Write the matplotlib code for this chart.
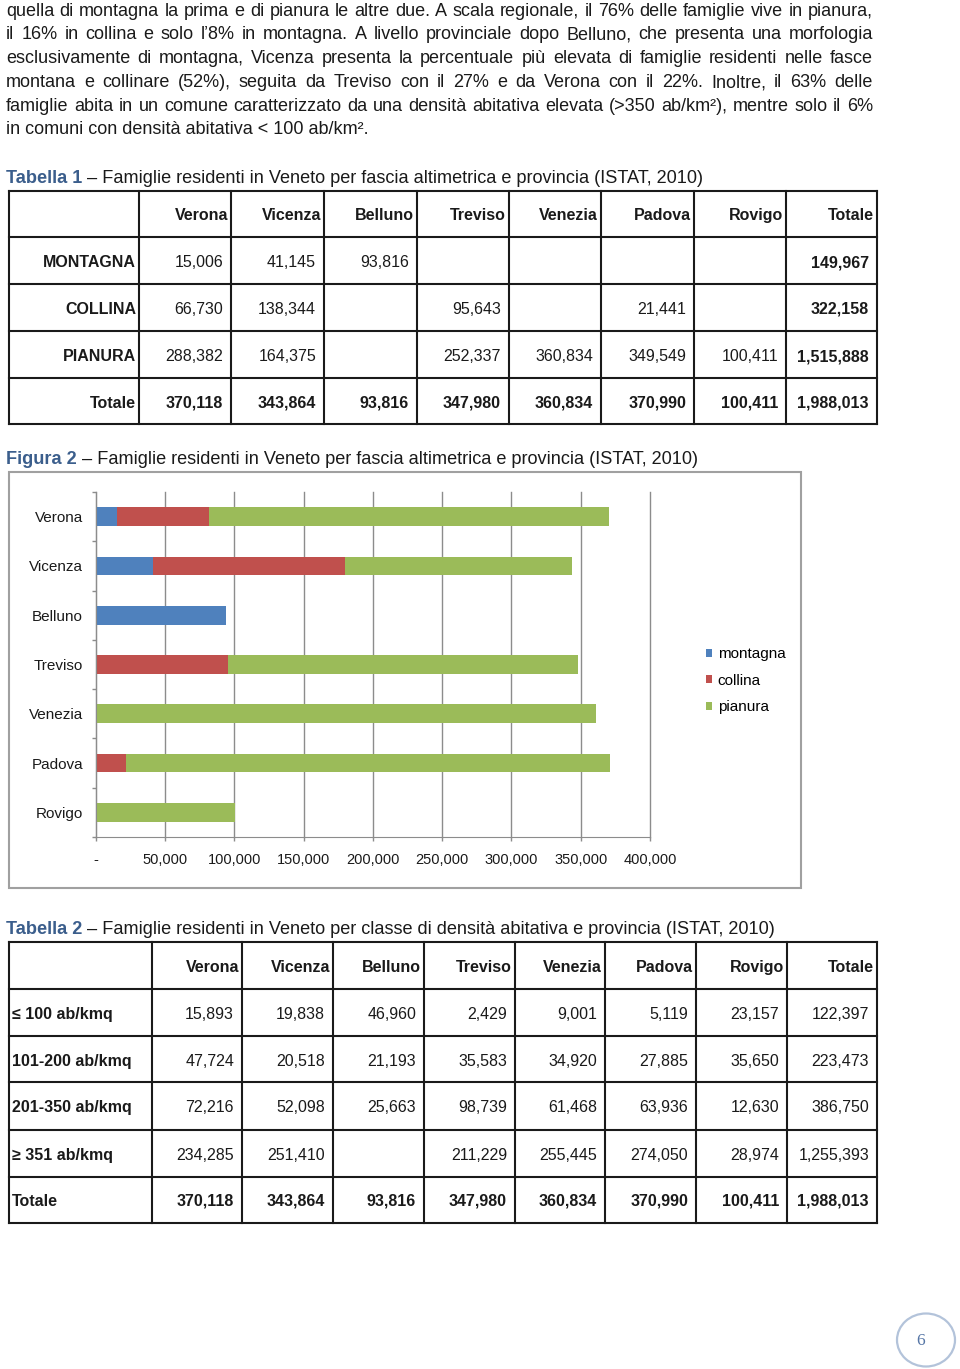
import matplotlib
matplotlib.use('Agg')
import numpy as np
import matplotlib.pyplot as plt
from matplotlib.font_manager import FontProperties
from matplotlib.patches import Rectangle, Ellipse
from matplotlib.ticker import FuncFormatter, MultipleLocator

plt.rcParams['font.family'] = ['Liberation Sans', 'DejaVu Sans']

W, H = 960, 1369
INK = '#1a1a1a'
CAP_BLUE = '#3b5e8c'
GRID = '#8c8c8c'

# testo del paragrafo (righe come nell'originale)
body_lines = [
    "quella di montagna la prima e di pianura le altre due. A scala regionale, il 76% delle famiglie vive in pianura,",
    "il 16% in collina e solo l\u20198% in montagna. A livello provinciale dopo Belluno, che presenta una morfologia",
    "esclusivamente di montagna, Vicenza presenta la percentuale più elevata di famiglie residenti nelle fasce",
    "montana e collinare (52%), seguita da Treviso con il 27% e da Verona con il 22%. Inoltre, il 63% delle",
    "famiglie abita in un comune caratterizzato da una densità abitativa elevata (>350 ab/km\u00b2), mentre solo il 6%",
    "in comuni con densità abitativa < 100 ab/km\u00b2.",
]

cap_t1 = ("Tabella 1", "\u2013 Famiglie residenti in Veneto per fascia altimetrica e provincia (ISTAT, 2010)")
cap_f2 = ("Figura 2", "\u2013 Famiglie residenti in Veneto per fascia altimetrica e provincia (ISTAT, 2010)")
cap_t2 = ("Tabella 2", "\u2013 Famiglie residenti in Veneto per classe di densità abitativa e provincia (ISTAT, 2010)")

# Tabella 1 / Figura 2
province = ['Verona', 'Vicenza', 'Belluno', 'Treviso', 'Venezia', 'Padova', 'Rovigo']
fasce = ['MONTAGNA', 'COLLINA', 'PIANURA']
montagna = [15006, 41145, 93816, 0, 0, 0, 0]
collina = [66730, 138344, 0, 95643, 0, 21441, 0]
pianura = [288382, 164375, 0, 252337, 360834, 349549, 100411]
totale_prov = [370118, 343864, 93816, 347980, 360834, 370990, 100411]
totale_fasce = [149967, 322158, 1515888]
totale_veneto = 1988013

# Tabella 2
classi = ['\u2264 100 ab/kmq', '101-200 ab/kmq', '201-350 ab/kmq', '\u2265 351 ab/kmq']
dens_100 = [15893, 19838, 46960, 2429, 9001, 5119, 23157]
dens_200 = [47724, 20518, 21193, 35583, 34920, 27885, 35650]
dens_350 = [72216, 52098, 25663, 98739, 61468, 63936, 12630]
dens_351 = [234285, 251410, 0, 211229, 255445, 274050, 28974]
totale_classi = [122397, 223473, 386750, 1255393]

fig = plt.figure(figsize=(W / 100, H / 100), dpi=100)
page = fig.add_axes([0, 0, 1, 1])
page.set_xlim(0, W)
page.set_ylim(H, 0)
page.axis('off')
renderer = fig.canvas.get_renderer()

FAM = ['Liberation Sans', 'DejaVu Sans']
fp_body = FontProperties(family=FAM, size=13)
fp_cap = FontProperties(family=FAM, size=13.1)
fp_bold = FontProperties(family=FAM, size=13.1, weight='bold')


def width_px(s, fp):
    return renderer.get_text_width_height_descent(s, fp, ismath=False)[0]


# paragrafo giustificato
left, right = 6, 873
for i, line in enumerate(body_lines):
    yb = round(15.5 + 23.8 * i)
    if i == len(body_lines) - 1:
        page.text(left, yb, line, fontproperties=fp_body, color=INK, va='baseline')
        continue
    words = line.split(' ')
    widths = [width_px(w, fp_body) for w in words]
    gap = (right - left - sum(widths)) / (len(words) - 1)
    x = left
    for w, wd in zip(words, widths):
        page.text(x, yb, w, fontproperties=fp_body, color=INK, va='baseline')
        x += wd + gap


def caption(yb, parts):
    head, rest = parts
    page.text(6, yb, head, fontproperties=fp_bold, color=CAP_BLUE, va='baseline')
    x = 6 + width_px(head, fp_bold) + width_px('a a', fp_cap) - width_px('aa', fp_cap)
    page.text(x, yb, rest, fontproperties=fp_cap, color=INK, va='baseline')


caption(183, cap_t1)
caption(464, cap_f2)
caption(934, cap_t2)


def fmt(v):
    return '' if not v else f'{v:,}'


def draw_table(col_x, row_y, cells, bold_cells, first_left):
    page.vlines(col_x, row_y[0], row_y[-1], color=INK, lw=1.5, capstyle='projecting')
    page.hlines(row_y, col_x[0], col_x[-1], color=INK, lw=1.5, capstyle='projecting')
    for r, row in enumerate(cells):
        yb = round((row_y[r] + row_y[r + 1]) / 2 + 6.5)
        for c, s in enumerate(row):
            if not s:
                continue
            weight = 'bold' if bold_cells(r, c) else 'normal'
            if c == 0 and first_left:
                page.text(col_x[0] + 3, yb, s, fontsize=11.5, weight=weight,
                          color=INK, ha='left', va='baseline')
            else:
                pad = 3 if (r == 0 or c == 0) else 8
                page.text(col_x[c + 1] - pad, yb, s, fontsize=11.5, weight=weight,
                          color=INK, ha='right', va='baseline')


# Tabella 1
t1 = [[''] + province + ['Totale']]
for name, vals, tot in zip(fasce, [montagna, collina, pianura], totale_fasce):
    t1.append([name] + [fmt(v) for v in vals] + [fmt(tot)])
t1.append(['Totale'] + [fmt(v) for v in totale_prov] + [fmt(totale_veneto)])
draw_table([9, 139, 231, 324, 417, 509, 601, 694, 786, 877],
           [191, 237, 284, 331, 378, 424], t1,
           lambda r, c: r == 0 or c == 0 or r == 4 or c == 8, False)

# Tabella 2
t2 = [[''] + province + ['Totale']]
for name, vals, tot in zip(classi, [dens_100, dens_200, dens_350, dens_351], totale_classi):
    t2.append([name] + [fmt(v) for v in vals] + [fmt(tot)])
t2.append(['Totale'] + [fmt(v) for v in totale_prov] + [fmt(totale_veneto)])
draw_table([9, 152, 242, 333, 424, 515, 605, 696, 787, 877],
           [942, 989, 1036, 1082, 1130, 1177, 1223], t2,
           lambda r, c: r == 0 or c == 0 or r == 5, True)

# Figura 2
page.add_patch(Rectangle((9, 472), 792, 416, fill=False, ec='#a0a0a0', lw=1.5))

ax = fig.add_axes([96 / W, 1 - 837 / H, 554 / W, 345 / H])
ax.set_facecolor('none')
y = np.arange(len(province))
ax.barh(y, montagna, height=0.38, color='#4f81bd', label='montagna')
ax.barh(y, collina, height=0.38, left=montagna, color='#c0504d', label='collina')
ax.barh(y, pianura, height=0.38, left=np.add(montagna, collina), color='#9bbb59', label='pianura')
ax.set_xlim(0, 400000)
ax.set_ylim(len(province) - 0.5, -0.5)
ax.xaxis.set_major_locator(MultipleLocator(50000))
ax.xaxis.set_major_formatter(FuncFormatter(lambda v, _: '-' if v == 0 else f'{int(v):,}'))
ax.grid(axis='x', color=GRID, lw=1)
for gl in ax.get_xgridlines():
    gl.set_clip_on(False)
ax.set_axisbelow(True)
ax.set_yticks(y, province)
ax.set_yticks(np.arange(-0.5, len(province)), minor=True)
ax.tick_params(axis='y', which='major', length=0, pad=9.4, labelsize=11, labelcolor=INK)
ax.tick_params(axis='y', which='minor', length=3, color=GRID, width=1)
ax.tick_params(axis='x', length=3, color=GRID, width=1, pad=8.5, labelsize=10.5, labelcolor=INK)
for s in ['top', 'right']:
    ax.spines[s].set_visible(False)
for s in ['left', 'bottom']:
    ax.spines[s].set_color(GRID)
ax.legend(loc='upper left', bbox_to_anchor=(706 / W, 1 - 647 / H), bbox_transform=fig.transFigure,
          frameon=False, fontsize=11, handlelength=0.42, handleheight=0.42,
          handletextpad=0.35, labelspacing=0.83, borderpad=0, borderaxespad=0)

# numero di pagina
page.add_patch(Ellipse((926, 1340), 58, 53, fill=False, ec='#b3c3da', lw=1.6))
page.text(921, 1341, '6', family=['Liberation Serif', 'DejaVu Serif'], fontsize=12.5,
          color='#5676a6', ha='center', va='center')

fig.savefig('out.png', dpi=100)
